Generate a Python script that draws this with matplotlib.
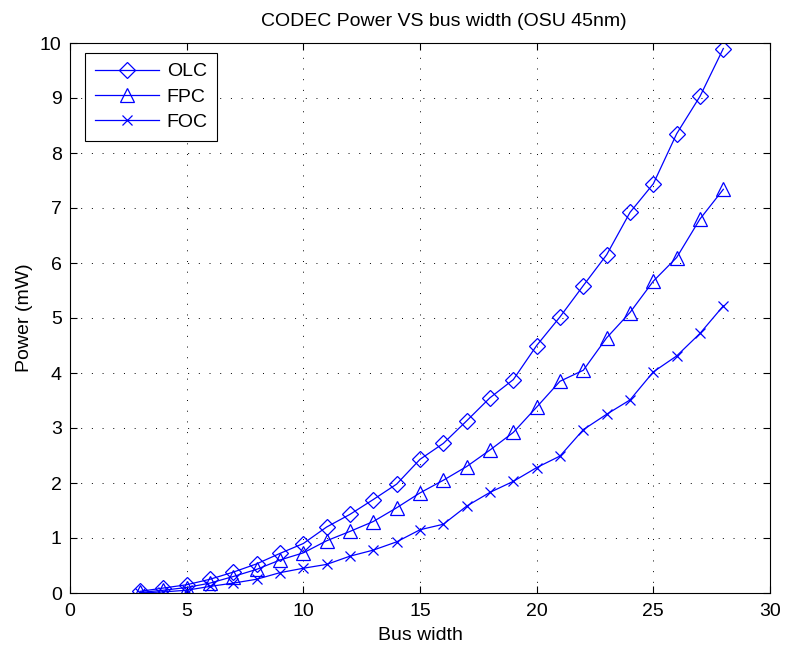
import matplotlib
matplotlib.use('Agg')
import matplotlib.pyplot as plt

plt.rcParams['font.family'] = ['Liberation Sans', 'DejaVu Sans']

bus_width = list(range(3, 29))
olc = [0.03, 0.09, 0.15, 0.25, 0.38, 0.53, 0.72, 0.90, 1.20, 1.43, 1.70, 1.98, 2.43,
       2.72, 3.13, 3.55, 3.88, 4.50, 5.02, 5.59, 6.15, 6.92, 7.44, 8.35, 9.03, 9.90]
fpc = [0.01, 0.05, 0.10, 0.18, 0.30, 0.43, 0.60, 0.73, 0.95, 1.12, 1.30, 1.55, 1.82,
       2.05, 2.30, 2.60, 2.92, 3.38, 3.85, 4.05, 4.64, 5.10, 5.67, 6.10, 6.80, 7.34]
foc = [0.00, 0.02, 0.05, 0.12, 0.18, 0.25, 0.37, 0.45, 0.52, 0.67, 0.78, 0.93, 1.15,
       1.25, 1.58, 1.83, 2.03, 2.28, 2.49, 2.97, 3.25, 3.51, 4.02, 4.31, 4.72, 5.22]

fig = plt.figure(figsize=(7.9, 6.49), dpi=100)
ax = fig.add_axes([70/790, 1 - 593/649, 700/790, 550/649])

ax.plot(bus_width, olc, color='b', lw=0.9, marker='D', ms=8.5, mfc='none', mew=0.9, label='OLC')
ax.plot(bus_width, fpc, color='b', lw=0.9, marker='^', ms=10.5, mfc='none', mew=0.9, label='FPC')
ax.plot(bus_width, foc, color='b', lw=0.9, marker='x', ms=7.5, mfc='none', mew=0.9, label='FOC')

ax.set_xlim(0, 30)
ax.set_ylim(0, 10)
ax.set_xticks(range(0, 31, 5))
ax.set_yticks(range(0, 11))
ax.grid(True, color='k', linestyle=(0, (1, 10)), linewidth=0.7)
ax.tick_params(direction='in', top=True, right=True, labelsize=14, length=5)
ax.tick_params(axis='x', pad=7)
ax.tick_params(axis='y', pad=6)
for s in ax.spines.values():
    s.set_linewidth(0.8)

ax.set_xlabel('Bus width', fontsize=14, labelpad=5)
ax.set_ylabel('Power (mW)', fontsize=14, labelpad=5)
ax.set_title('CODEC Power VS bus width (OSU 45nm)', fontsize=14, pad=12, x=0.534)

leg = ax.legend(loc='upper left', bbox_to_anchor=(15/700, 1 - 10/550), fontsize=14,
                fancybox=False, framealpha=1, edgecolor='k', borderaxespad=0,
                handlelength=3.3, labelspacing=0.4, handletextpad=0.4, borderpad=0.5)
leg.get_frame().set_linewidth(0.8)

fig.savefig('out.png', dpi=100)
